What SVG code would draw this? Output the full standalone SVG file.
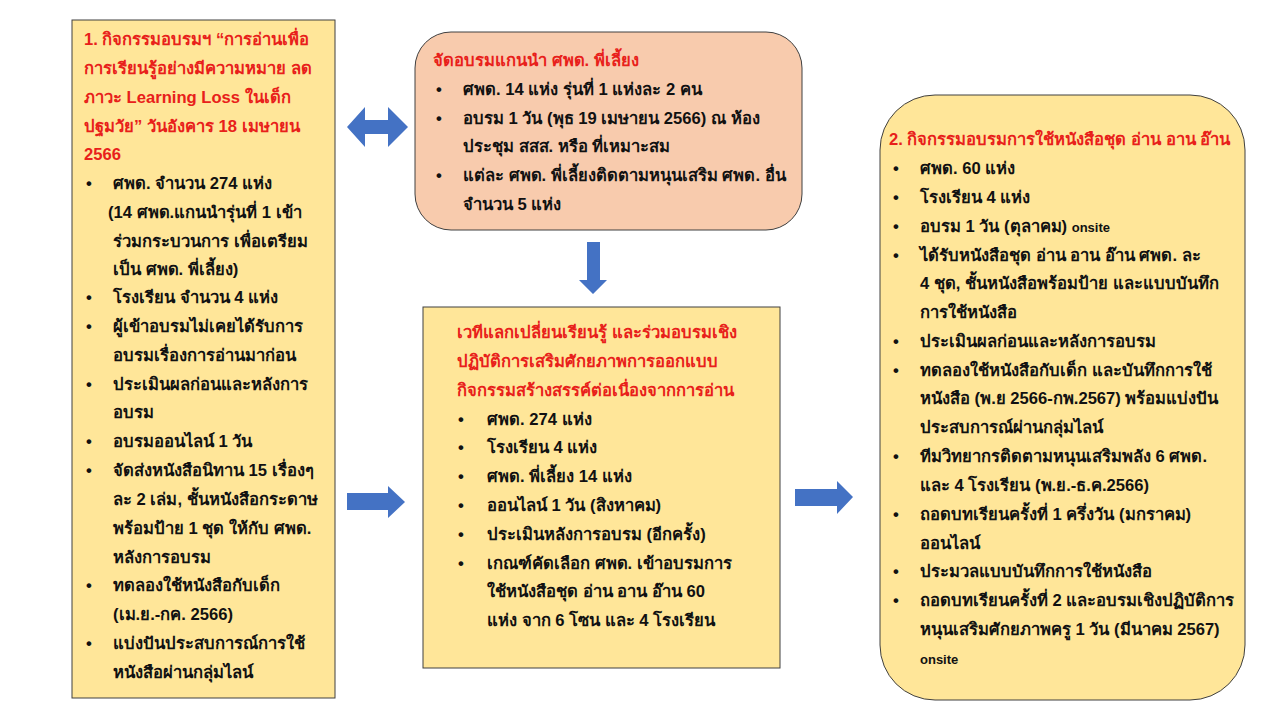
<svg xmlns="http://www.w3.org/2000/svg" width="1280" height="720" viewBox="0 0 1280 720">
<style>
.t{font-family:"Liberation Sans","Noto Sans",sans-serif;font-size:16.6px;font-weight:bold;fill:#111}
.r{fill:#E8201A}
.s{font-size:13px}
.box{fill:#FFE699;stroke:#404040;stroke-width:1}
.pk{fill:#F8CBAD;stroke:#404040;stroke-width:1}
.arr{fill:#4472C4}
</style>
<rect width="1280" height="720" fill="#fff"/>
<g id="connectors">
<path class="arr" d="M347,127 L365,107 L365,120 L388,120 L388,107 L408,127 L388,147 L388,134 L365,134 L365,147 Z"/>
<path class="arr" d="M587,242 L600,242 L600,280 L607,280 L593,294 L579,280 L587,280 Z"/>
<path class="arr" d="M347,493 L388,493 L388,486 L405,502 L388,518 L388,510 L347,510 Z"/>
<path class="arr" d="M795,489 L837,489 L837,481 L853,497 L837,514 L837,506 L795,506 Z"/>
</g>
<g id="node-left">
<rect class="box" x="72" y="20" width="263" height="678"/>
<text class="t r" x="84" y="45">1. กิจกรรมอบรมฯ “การอ่านเพื่อ</text>
<text class="t r" x="84" y="74">การเรียนรู้อย่างมีความหมาย ลด</text>
<text class="t r" x="84" y="103">ภาวะ Learning Loss ในเด็ก</text>
<text class="t r" x="84" y="132">ปฐมวัย” วันอังคาร 18 เมษายน</text>
<text class="t r" x="84" y="160">2566</text>
<g class="t">
<text x="86" y="189">•</text><text x="113" y="189">ศพด. จำนวน 274 แห่ง</text>
<text x="108" y="218">(14 ศพด.แกนนำรุ่นที่ 1  เข้า</text>
<text x="113" y="247">ร่วมกระบวนการ เพื่อเตรียม</text>
<text x="113" y="275">เป็น ศพด. พี่เลี้ยง)</text>
<text x="86" y="303">•</text><text x="113" y="303">โรงเรียน จำนวน 4 แห่ง</text>
<text x="86" y="332">•</text><text x="113" y="332">ผู้เข้าอบรมไม่เคยได้รับการ</text>
<text x="113" y="361">อบรมเรื่องการอ่านมาก่อน</text>
<text x="86" y="390">•</text><text x="113" y="390">ประเมินผลก่อนและหลังการ</text>
<text x="113" y="418">อบรม</text>
<text x="86" y="447">•</text><text x="113" y="447">อบรมออนไลน์ 1 วัน</text>
<text x="86" y="476">•</text><text x="113" y="476">จัดส่งหนังสือนิทาน 15 เรื่องๆ</text>
<text x="113" y="505">ละ 2 เล่ม, ชั้นหนังสือกระดาษ</text>
<text x="113" y="534">พร้อมป้าย 1 ชุด ให้กับ ศพด.</text>
<text x="113" y="563">หลังการอบรม</text>
<text x="86" y="591">•</text><text x="113" y="591">ทดลองใช้หนังสือกับเด็ก</text>
<text x="113" y="620">(เม.ย.-กค. 2566)</text>
<text x="86" y="649">•</text><text x="113" y="649">แบ่งปันประสบการณ์การใช้</text>
<text x="113" y="678">หนังสือผ่านกลุ่มไลน์</text>
</g>
</g>
<g id="node-top">
<rect class="pk" x="415" y="32" width="387" height="198" rx="36" ry="36"/>
<text class="t r" x="433" y="66">จัดอบรมแกนนำ ศพด. พี่เลี้ยง</text>
<g class="t">
<text x="436" y="95">•</text><text x="463" y="95">ศพด. 14 แห่ง รุ่นที่ 1 แห่งละ 2 คน</text>
<text x="436" y="124">•</text><text x="463" y="124">อบรม 1 วัน  (พุธ 19 เมษายน 2566)  ณ ห้อง</text>
<text x="463" y="152">ประชุม สสส. หรือ ที่เหมาะสม</text>
<text x="436" y="181">•</text><text x="463" y="181">แต่ละ ศพด. พี่เลี้ยงติดตามหนุนเสริม ศพด. อื่น</text>
<text x="463" y="210">จำนวน 5 แห่ง</text>
</g>
</g>
<g id="node-middle">
<rect class="box" x="423" y="307" width="357" height="361"/>
<text class="t r" x="457" y="338">เวทีแลกเปลี่ยนเรียนรู้ และร่วมอบรมเชิง</text>
<text class="t r" x="457" y="367">ปฏิบัติการเสริมศักยภาพการออกแบบ</text>
<text class="t r" x="457" y="396">กิจกรรมสร้างสรรค์ต่อเนื่องจากการอ่าน</text>
<g class="t">
<text x="458" y="425">•</text><text x="487" y="425">ศพด. 274 แห่ง</text>
<text x="458" y="453">•</text><text x="487" y="453">โรงเรียน 4 แห่ง</text>
<text x="458" y="482">•</text><text x="487" y="482">ศพด. พี่เลี้ยง 14 แห่ง</text>
<text x="458" y="511">•</text><text x="487" y="511">ออนไลน์ 1 วัน (สิงหาคม)</text>
<text x="458" y="540">•</text><text x="487" y="540">ประเมินหลังการอบรม (อีกครั้ง)</text>
<text x="458" y="569">•</text><text x="487" y="569">เกณฑ์คัดเลือก ศพด. เข้าอบรมการ</text>
<text x="487" y="597">ใช้หนังสือชุด อ่าน อาน อ๊าน 60</text>
<text x="487" y="626">แห่ง จาก 6 โซน และ 4 โรงเรียน</text>
</g>
</g>
<g id="node-right">
<rect class="box" x="880" y="95" width="365" height="605" rx="55" ry="55"/>
<text class="t r" x="889" y="145">2. กิจกรรมอบรมการใช้หนังสือชุด อ่าน อาน อ๊าน</text>
<g class="t">
<text x="893" y="174">•</text><text x="920" y="174">ศพด. 60 แห่ง</text>
<text x="893" y="203">•</text><text x="920" y="203">โรงเรียน 4 แห่ง</text>
<text x="893" y="232">•</text><text x="920" y="232">อบรม 1 วัน (ตุลาคม) <tspan class="s">onsite</tspan></text>
<text x="893" y="261">•</text><text x="920" y="261">ได้รับหนังสือชุด อ่าน อาน อ๊าน ศพด. ละ</text>
<text x="920" y="289">4 ชุด,  ชั้นหนังสือพร้อมป้าย และแบบบันทึก</text>
<text x="920" y="318">การใช้หนังสือ</text>
<text x="893" y="347">•</text><text x="920" y="347">ประเมินผลก่อนและหลังการอบรม</text>
<text x="893" y="376">•</text><text x="920" y="376">ทดลองใช้หนังสือกับเด็ก และบันทึกการใช้</text>
<text x="920" y="404">หนังสือ (พ.ย  2566-กพ.2567) พร้อมแบ่งปัน</text>
<text x="920" y="433">ประสบการณ์ผ่านกลุ่มไลน์</text>
<text x="893" y="462">•</text><text x="920" y="462">ทีมวิทยากรติดตามหนุนเสริมพลัง 6 ศพด.</text>
<text x="920" y="491">และ 4 โรงเรียน (พ.ย.-ธ.ค.2566)</text>
<text x="893" y="520">•</text><text x="920" y="520">ถอดบทเรียนครั้งที่ 1 ครึ่งวัน (มกราคม)</text>
<text x="920" y="549">ออนไลน์</text>
<text x="893" y="577">•</text><text x="920" y="577">ประมวลแบบบันทึกการใช้หนังสือ</text>
<text x="893" y="606">•</text><text x="920" y="606">ถอดบทเรียนครั้งที่ 2 และอบรมเชิงปฏิบัติการ</text>
<text x="920" y="635">หนุนเสริมศักยภาพครู 1 วัน (มีนาคม 2567)</text>
<text x="920" y="664" class="s">onsite</text>
</g>
</g>
</svg>
